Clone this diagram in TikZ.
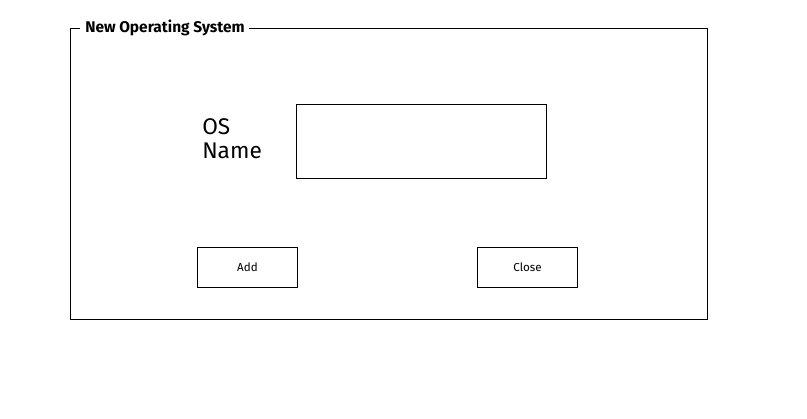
\documentclass[tikz,border=0pt]{standalone}
\usepackage{fontspec}
\setmainfont{Fira Sans}
\usepackage{tikz}

\begin{document}
\begin{tikzpicture}[x=0.75pt,y=-0.75pt]
   \useasboundingbox (0,0) rectangle (807,418);
   % frame with title gap
   \draw (80,28)--(70.5,28)--(70.5,319.5)--(707.5,319.5)--(707.5,28)--(249,28);
   \node[anchor=west,inner sep=0pt,font=\bfseries\fontsize{11.6}{13}\selectfont] (title) at (85,28) {New Operating System};
   % label and entry box
   \node[anchor=north west,inner sep=0pt,align=left,font=\fontsize{17}{18}\selectfont] (osname) at (202,118) {OS\\Name};
   \node[draw,minimum width=187.5pt,minimum height=55.5pt] (entry) at (421.5,141.5) {};
   % buttons
   \node[draw,minimum width=75pt,minimum height=30pt,font=\fontsize{8.7}{10}\selectfont] (add) at (247.5,267.5) {Add};
   \node[draw,minimum width=75pt,minimum height=30pt,font=\fontsize{8.7}{10}\selectfont] (close) at (527.5,267.5) {Close};
\end{tikzpicture}
\end{document}
